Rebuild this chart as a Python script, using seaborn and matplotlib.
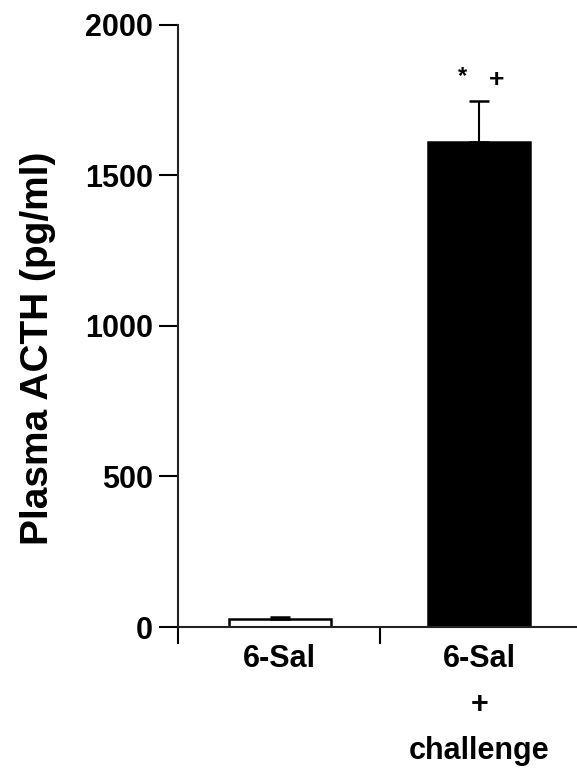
import matplotlib
matplotlib.use('Agg')
import matplotlib.pyplot as plt
import seaborn as sns
import pandas as pd

# values
groups = ['6-Sal', '6-Sal\n+\nchallenge']
acth_mean = [27, 1612]
acth_sem = [8, 135]
bar_colors = ['white', 'black']
y_ticks = [0, 500, 1000, 1500, 2000]

sns.set_style('ticks')
plt.rcParams['font.family'] = ['Liberation Sans', 'DejaVu Sans']
plt.rcParams['font.weight'] = 'bold'
plt.rcParams['text.color'] = 'black'
plt.rcParams['axes.labelcolor'] = 'black'
plt.rcParams['xtick.color'] = 'black'
plt.rcParams['ytick.color'] = 'black'

df = pd.DataFrame({'group': groups, 'acth': acth_mean})

fig = plt.figure(figsize=(5.77, 7.77), dpi=100)
ax = fig.add_axes([0.3085, 0.193, 0.69, 0.775])

sns.barplot(data=df, x='group', y='acth', hue='group', palette=bar_colors,
            width=0.51, edgecolor='black', linewidth=1.8, errorbar=None,
            legend=False, ax=ax)

# upper error bars only
ax.errorbar(range(len(groups)), acth_mean, yerr=[[0] * len(groups), acth_sem],
            fmt='none', ecolor='black', elinewidth=1.5, capsize=7, capthick=1.8)

# significance marks
ax.text(0.915, 1830, '*', ha='center', va='center', fontsize=17, fontweight='bold')
ax.text(1.085, 1817, '+', ha='center', va='center', fontsize=19, fontweight='bold')

ax.set_xlim(-0.51, 1.485)
ax.set_ylim(0, 2000)
ax.set_yticks(y_ticks)
ax.set_yticklabels([str(t) for t in y_ticks], fontsize=22, fontweight='bold')
ax.set_xticks([0, 1])
ax.set_xticklabels(groups, fontsize=22, fontweight='bold', linespacing=1.7)
ax.set_xticks([-0.51, 0.5], minor=True)
ax.tick_params(axis='x', which='major', length=0, pad=12)
ax.tick_params(axis='x', which='minor', length=12, width=1.5, direction='out')
ax.tick_params(axis='y', length=14, width=1.5, direction='out', pad=4)

ax.set_xlabel('')
ax.set_ylabel('Plasma ACTH (pg/ml)', fontsize=28, fontweight='bold')
ax.yaxis.set_label_coords(-0.306, 0.463)

for side in ['top', 'right']:
    ax.spines[side].set_visible(False)
for side in ['left', 'bottom']:
    ax.spines[side].set_linewidth(1.5)
    ax.spines[side].set_color('#222222')

fig.savefig('out.png', dpi=100)
